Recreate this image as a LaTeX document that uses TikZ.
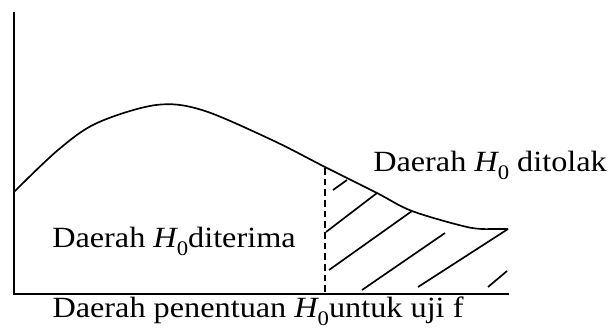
\documentclass[tikz,border=0pt]{standalone}
\usepackage{fontspec}
\setmainfont{Liberation Serif}
\newcommand{\Hnol}{{\itshape H}\raisebox{-0.28em}{\fontsize{15.5}{16}\selectfont 0}}
\newcommand{\wide}[1]{\scalebox{1.1}[1]{#1}}
\begin{document}
\begin{tikzpicture}[x=0.75pt,y=-0.75pt,
  lbl/.style={anchor=base west,inner sep=0pt,font=\fontsize{22}{26}\selectfont},
  axis/.style={line width=1.5pt},
  curve/.style={line width=1.25pt},
  hatch/.style={line width=1.25pt}]
\useasboundingbox (0,0) rectangle (609,330);
% axes
\draw[axis] (14,12) -- (14,294) -- (509,294);
% curve
\draw[curve] plot[smooth,tension=0.55] coordinates {(14,192) (58,150) (97,123) (156,105) (202,110) (272,140) (325,167) (377,193) (412,211) (467,227) (490,229)} -- (508,229);
% dashed boundary
\draw[hatch,dashed,dash pattern=on 5pt off 3pt] (325,168) -- (325,293);
% hatching
\draw[hatch] (333,190) -- (347,180);
\draw[hatch] (326,232) -- (377,193);
\draw[hatch] (329,270) -- (412,211);
\draw[hatch] (362,290) -- (445,233);
\draw[hatch] (418,287) -- (508,229);
\draw[hatch] (488,287) -- (507,271);
% labels
\node[lbl] (tolak) at (373,171) {\wide{Daerah \Hnol\ ditolak}};
\node[lbl] (terima) at (52,247) {\wide{Daerah \Hnol diterima}};
\node[lbl,anchor=base] (judul) at (258,317) {\wide{Daerah penentuan \Hnol untuk uji f}};
\end{tikzpicture}
\end{document}
